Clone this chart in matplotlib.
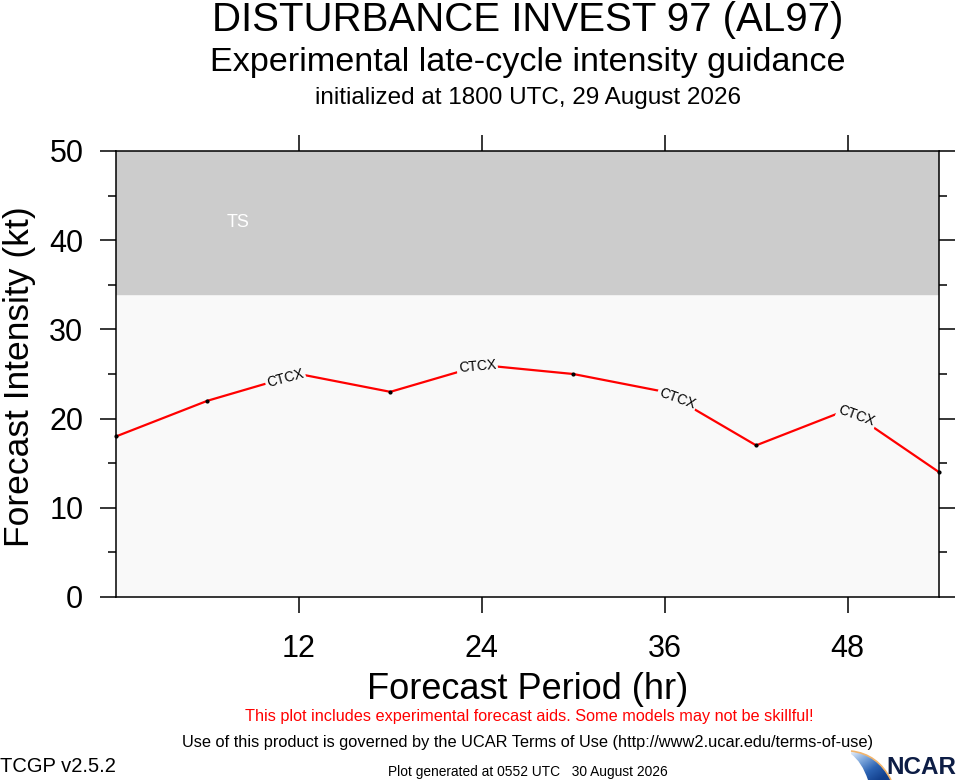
import numpy as np
import matplotlib
matplotlib.use("Agg")
import matplotlib.pyplot as plt
from matplotlib.ticker import MultipleLocator, FixedLocator
from matplotlib.patches import PathPatch
from matplotlib.path import Path
from matplotlib.colors import LinearSegmentedColormap

plt.rcParams["font.family"] = ["Liberation Sans", "DejaVu Sans"]

# forecast hours and CTCX intensity (kt)
hours = [0, 6, 12, 18, 24, 30, 36, 42, 48, 54]
ctcx = [18, 22, 25, 23, 26, 25, 23, 17, 21, 14]

# where the model name is written along the line, and its angle
label_hours = [11.1, 23.7, 36.8, 48.6]
label_angles = [15, 5, -20, -20]

ts_floor = 34
x_ticks = [12, 24, 36, 48]

fig = plt.figure(figsize=(9.57, 7.8), dpi=100)
ax = fig.add_axes([116 / 957, 1 - 597 / 780, 823 / 957, 446 / 780])
ax.set_xlim(0, 54)
ax.set_ylim(0, 50)

ax.set_facecolor("#f9f9f9")
ax.axhspan(ts_floor, 50, color="#cccccc", zorder=0)
ax.text(8, 42, "TS", color="white", fontsize=13, ha="center", va="center")

ax.plot(hours, ctcx, color="red", lw=1.6, zorder=2)
ax.plot(hours, ctcx, "o", color="black", ms=2, zorder=3, clip_on=False)

for h, ang in zip(label_hours, label_angles):
    ax.text(h, np.interp(h, hours, ctcx), "CTCX", fontsize=10, rotation=ang,
            rotation_mode="anchor", ha="center", va="center", zorder=4,
            bbox=dict(facecolor="#f9f9f9", edgecolor="none", pad=1.2))

ax.xaxis.set_major_locator(FixedLocator(x_ticks))
ax.yaxis.set_major_locator(MultipleLocator(10))
ax.yaxis.set_minor_locator(MultipleLocator(5))
ax.tick_params(which="both", direction="out", width=1.1, top=True, right=True,
               labelsize=22)
ax.tick_params(which="major", length=11.5)
ax.tick_params(which="minor", length=5.5)
ax.tick_params(axis="y", pad=12)
ax.tick_params(axis="x", pad=15)
for s in ax.spines.values():
    s.set_linewidth(1.1)

ax.set_xlabel("Forecast Period (hr)", fontsize=26, labelpad=6)
ax.set_ylabel("Forecast Intensity (kt)", fontsize=25.5, va="center")
ax.yaxis.set_label_coords(-0.117, 0.493)

fig.text(528 / 957, 1 - 20 / 780, "DISTURBANCE INVEST 97 (AL97)", fontsize=29,
         ha="center", va="center")
fig.text(528 / 957, 1 - 62 / 780, "Experimental late-cycle intensity guidance",
         fontsize=24.6, ha="center", va="center")
fig.text(528 / 957, 1 - 98 / 780, "initialized at 1800 UTC, 29 August 2026",
         fontsize=17.5, ha="center", va="center")

fig.text(529 / 957, 1 - 717 / 780,
         "This plot includes experimental forecast aids. Some models may not be skillful!",
         color="red", fontsize=11.7, ha="center", va="center")
fig.text(528 / 957, 1 - 742 / 780,
         "Use of this product is governed by the UCAR Terms of Use (http://www2.ucar.edu/terms-of-use)",
         fontsize=11.8, ha="center", va="center")
fig.text(0, 1 - 767 / 780, "TCGP v2.5.2", fontsize=14.5, ha="left", va="center")
fig.text(528 / 957, 1 - 772 / 780, "Plot generated at 0552 UTC   30 August 2026",
         fontsize=9.9, ha="center", va="center")

# NCAR logo, in pixel coordinates of the bottom-right corner
logo = fig.add_axes([850 / 957, 0, 107 / 957, 30 / 780])
logo.set_xlim(850, 957)
logo.set_ylim(780, 750)
logo.axis("off")
swoosh = Path(
    [(851, 751), (878, 754), (891, 780), (868, 780), (862, 762), (851, 754), (851, 751)],
    [Path.MOVETO, Path.CURVE3, Path.CURVE3, Path.LINETO, Path.CURVE3, Path.CURVE3,
     Path.CLOSEPOLY],
)
patch = PathPatch(swoosh, facecolor="none", edgecolor="none")
logo.add_patch(patch)
gx, gy = np.meshgrid(np.linspace(0, 1, 60), np.linspace(0, 1, 40))
shade = np.clip(0.55 * gx + 0.6 * gy, 0, 1)
blues = LinearSegmentedColormap.from_list("ncar", ["#e8f0fa", "#7fa8dc", "#2c63b3", "#123f8c"])
img = logo.imshow(shade, cmap=blues, extent=(851, 891, 780, 751), aspect="auto",
                  interpolation="bilinear")
img.set_clip_path(patch)
edge = Path([(851, 751), (878, 754), (891, 780)], [Path.MOVETO, Path.CURVE3, Path.CURVE3])
logo.add_patch(PathPatch(edge, facecolor="none", edgecolor="#f2b46b", lw=1.2))
logo.text(956, 779, "NCAR", fontsize=17.5, fontweight="bold", color="#0d1d45",
          ha="right", va="bottom")

fig.savefig("out.png", dpi=100)
